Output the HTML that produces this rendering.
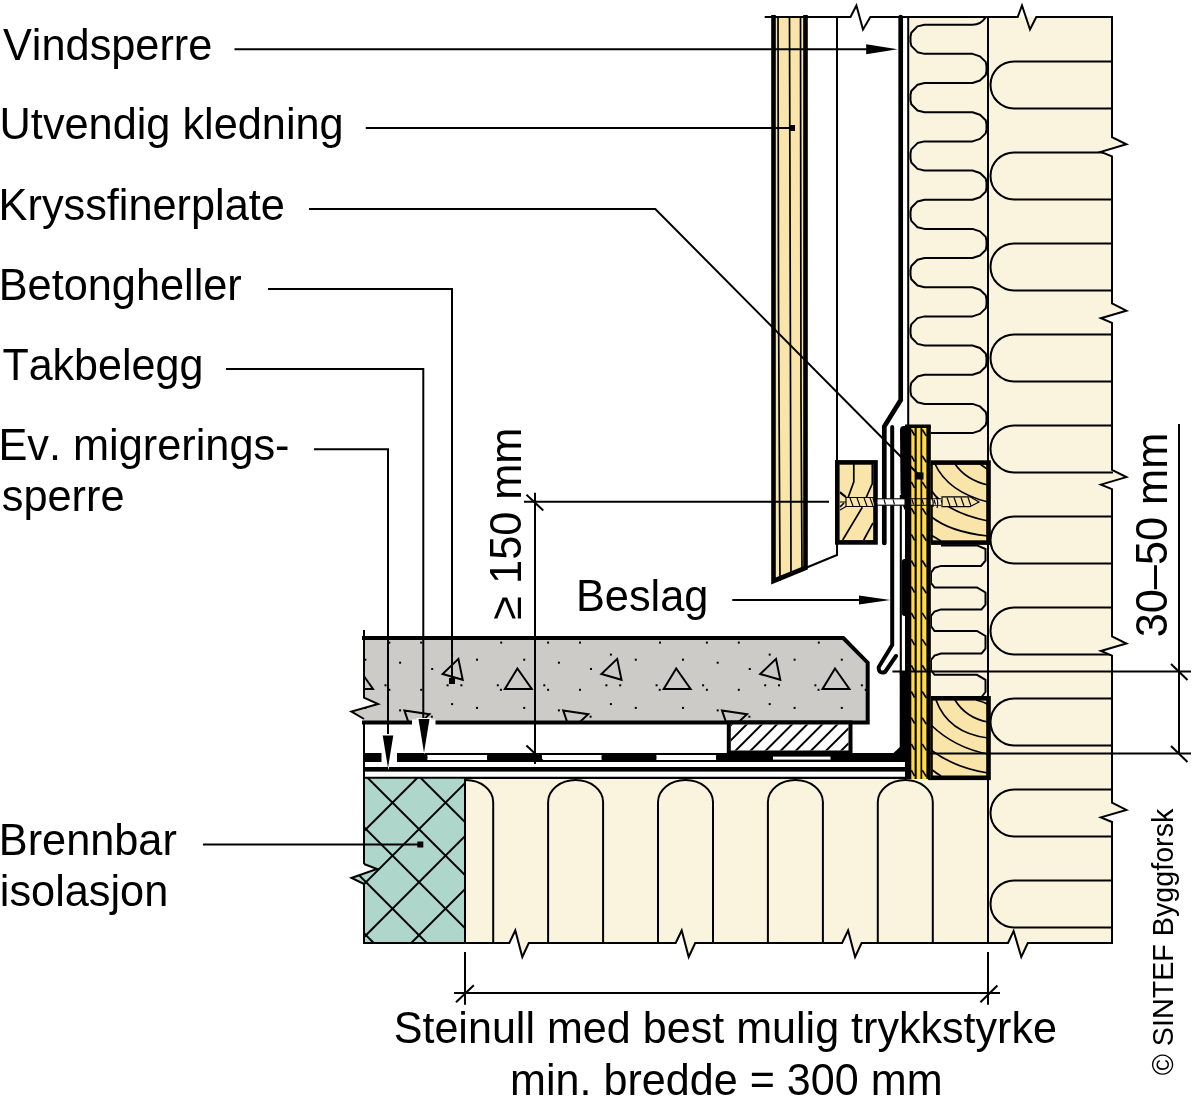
<!DOCTYPE html>
<html><head><meta charset="utf-8"><style>
html,body{margin:0;padding:0;background:#fff;}
svg{display:block;will-change:transform;}
text{font-family:"Liberation Sans",sans-serif;font-kerning:none;}
</style></head><body>
<svg width="1194" height="1099" viewBox="0 0 1194 1099">
<defs><clipPath id="oclip"><path d="M988,17 H1112 V137.1 L1126.4,144.3 L1100.9,151.8 L1112,156.4 V303.5 L1126.4,310.7 L1100.9,318.2 L1112,322.8 V469.9 L1126.4,477.1 L1100.9,484.6 L1112,489.2 V636.3 L1126.4,643.5 L1100.9,651.0 L1112,655.6 V802.7 L1126.4,809.9 L1100.9,817.4 L1112,822.0 V943 H1027.8 L1021.3,957 L1013.6,931 L1008,943 H988 Z"/></clipPath></defs>
<path d="M988,17 H1112 V137.1 L1126.4,144.3 L1100.9,151.8 L1112,156.4 V303.5 L1126.4,310.7 L1100.9,318.2 L1112,322.8 V469.9 L1126.4,477.1 L1100.9,484.6 L1112,489.2 V636.3 L1126.4,643.5 L1100.9,651.0 L1112,655.6 V802.7 L1126.4,809.9 L1100.9,817.4 L1112,822.0 V943 H1027.8 L1021.3,957 L1013.6,931 L1008,943 H988 Z" fill="#FAF3DE"/>
<path d="M988,17 H1017.7 L1022,5.5 L1030,29.5 L1036.3,17 H1112 V137.1 L1126.4,144.3 L1100.9,151.8 L1112,156.4 V303.5 L1126.4,310.7 L1100.9,318.2 L1112,322.8 V469.9 L1126.4,477.1 L1100.9,484.6 L1112,489.2 V636.3 L1126.4,643.5 L1100.9,651.0 L1112,655.6 V802.7 L1126.4,809.9 L1100.9,817.4 L1112,822.0 V943 H1027.8 L1021.3,957 L1013.6,931 L1008,943 H988" fill="none" stroke="#000" stroke-width="2" stroke-linejoin="miter"/>
<rect x="908" y="17" width="80" height="762" fill="#FAF3DE"/>
<path d="M465,778 H988 V943 H861.6 L855.1,957 L848.1,930.5 L842.1,943 H695.2 L688.7,957 L681.7,930.5 L675.7,943 H528.8 L522.3,957 L515.3,930.5 L509.3,943 H465 Z" fill="#FAF3DE" stroke="#000" stroke-width="2"/>
<g clip-path="url(#oclip)">
<path d="M1113,61.4 H1014 A23.5,23.5 0 0 0 1014,108.4 H1113" fill="none" stroke="#000" stroke-width="2"/>
<path d="M1113,152.4 H1014 A23.5,23.5 0 0 0 1014,199.4 H1113" fill="none" stroke="#000" stroke-width="2"/>
<path d="M1113,243.4 H1014 A23.5,23.5 0 0 0 1014,290.4 H1113" fill="none" stroke="#000" stroke-width="2"/>
<path d="M1113,334.4 H1014 A23.5,23.5 0 0 0 1014,381.4 H1113" fill="none" stroke="#000" stroke-width="2"/>
<path d="M1113,425.4 H1014 A23.5,23.5 0 0 0 1014,472.4 H1113" fill="none" stroke="#000" stroke-width="2"/>
<path d="M1113,516.4 H1014 A23.5,23.5 0 0 0 1014,563.4 H1113" fill="none" stroke="#000" stroke-width="2"/>
<path d="M1113,607.4 H1014 A23.5,23.5 0 0 0 1014,654.4 H1113" fill="none" stroke="#000" stroke-width="2"/>
<path d="M1113,698.4 H1014 A23.5,23.5 0 0 0 1014,745.4 H1113" fill="none" stroke="#000" stroke-width="2"/>
<path d="M1113,789.4 H1014 A23.5,23.5 0 0 0 1014,836.4 H1113" fill="none" stroke="#000" stroke-width="2"/>
<path d="M1113,880.4 H1014 A23.5,23.5 0 0 0 1014,927.4 H1113" fill="none" stroke="#000" stroke-width="2"/>
</g>
<line x1="988" y1="17" x2="988" y2="943" stroke="#000" stroke-width="2"/>
<path d="M985.5,17.5 Q981,24.7 972.5,24.7 H924.5 L917.5,26.40 L911.3,32.70 L910.5,36.70 V41.87 L911.3,45.87 L917.5,52.17 L924.5,53.87 H972.5 L980,56.37 L985.7,61.87 L986.5,65.87 V71.04 L985.7,75.04 L980,80.54 L972.5,83.04 H924.5 L917.5,84.74 L911.3,91.04 L910.5,95.04 V100.21 L911.3,104.21 L917.5,110.51 L924.5,112.21 H972.5 L980,114.71 L985.7,120.21 L986.5,124.21 V129.38 L985.7,133.38 L980,138.88 L972.5,141.38 H924.5 L917.5,143.08 L911.3,149.38 L910.5,153.38 V158.55 L911.3,162.55 L917.5,168.85 L924.5,170.55 H972.5 L980,173.05 L985.7,178.55 L986.5,182.55 V187.72 L985.7,191.72 L980,197.22 L972.5,199.72 H924.5 L917.5,201.42 L911.3,207.72 L910.5,211.72 V216.89 L911.3,220.89 L917.5,227.19 L924.5,228.89 H972.5 L980,231.39 L985.7,236.89 L986.5,240.89 V246.06 L985.7,250.06 L980,255.56 L972.5,258.06 H924.5 L917.5,259.76 L911.3,266.06 L910.5,270.06 V275.23 L911.3,279.23 L917.5,285.53 L924.5,287.23 H972.5 L980,289.73 L985.7,295.23 L986.5,299.23 V304.40 L985.7,308.40 L980,313.90 L972.5,316.40 H924.5 L917.5,318.10 L911.3,324.40 L910.5,328.40 V333.57 L911.3,337.57 L917.5,343.87 L924.5,345.57 H972.5 L980,348.07 L985.7,353.57 L986.5,357.57 V362.74 L985.7,366.74 L980,372.24 L972.5,374.74 H924.5 L917.5,376.44 L911.3,382.74 L910.5,386.74 V391.91 L911.3,395.91 L917.5,402.21 L924.5,403.91 H972.5 L980,406.41 L985.7,411.91 L986.5,415.91 V421.08 L985.7,425.08 L980,430.58 L972.5,433.08 H924.5" fill="none" stroke="#000" stroke-width="2" stroke-linejoin="round"/>
<path d="M941,545.4 H977 L985.5,549 V560.6 L981,565.9 H941 L934.5,567.9 L931,572.7 V583 L934.5,587.4 H977 L985.5,592.5 V604.6 L981.5,609.4 H941 L934.5,611.5 L931,615.9 V626.2 L934.5,631 H977 L985.5,636 V648.6 L981.5,653.6 H941 L934.5,655.6 L931,660 V670 L934.5,674.8 H977 L985.5,679.8 V692 L981.5,697" fill="none" stroke="#000" stroke-width="2"/>
<path d="M438.2,943 V802 A27.5,22 0 0 1 493.2,802 V943" fill="none" stroke="#000" stroke-width="2"/>
<path d="M548.1,943 V802 A27.5,22 0 0 1 603.1,802 V943" fill="none" stroke="#000" stroke-width="2"/>
<path d="M658.0,943 V802 A27.5,22 0 0 1 713.0,802 V943" fill="none" stroke="#000" stroke-width="2"/>
<path d="M767.9,943 V802 A27.5,22 0 0 1 822.9,802 V943" fill="none" stroke="#000" stroke-width="2"/>
<path d="M877.8,943 V802 A27.5,22 0 0 1 932.8,802 V943" fill="none" stroke="#000" stroke-width="2"/>
<defs><clipPath id="gclip"><path d="M364,778 H465 V943 H364 V884 L351.5,878 L377,869 L364,864 Z"/></clipPath></defs>
<path d="M364,778 H465 V943 H364 V884 L351.5,878 L377,869 L364,864 Z" fill="#AFD6CA"/>
<g clip-path="url(#gclip)" stroke="#000" stroke-width="2"><line x1="-28.2" y1="700" x2="271.8" y2="1000"/><line x1="177.2" y1="700" x2="-122.8" y2="1000"/><line x1="24.8" y1="700" x2="324.8" y2="1000"/><line x1="230.2" y1="700" x2="-69.8" y2="1000"/><line x1="77.8" y1="700" x2="377.8" y2="1000"/><line x1="283.2" y1="700" x2="-16.8" y2="1000"/><line x1="130.8" y1="700" x2="430.8" y2="1000"/><line x1="336.2" y1="700" x2="36.2" y2="1000"/><line x1="183.8" y1="700" x2="483.8" y2="1000"/><line x1="389.2" y1="700" x2="89.2" y2="1000"/><line x1="236.8" y1="700" x2="536.8" y2="1000"/><line x1="442.2" y1="700" x2="142.2" y2="1000"/><line x1="289.8" y1="700" x2="589.8" y2="1000"/><line x1="495.2" y1="700" x2="195.2" y2="1000"/><line x1="342.8" y1="700" x2="642.8" y2="1000"/><line x1="548.2" y1="700" x2="248.2" y2="1000"/><line x1="395.8" y1="700" x2="695.8" y2="1000"/><line x1="601.2" y1="700" x2="301.2" y2="1000"/><line x1="448.8" y1="700" x2="748.8" y2="1000"/><line x1="654.2" y1="700" x2="354.2" y2="1000"/><line x1="501.8" y1="700" x2="801.8" y2="1000"/><line x1="707.2" y1="700" x2="407.2" y2="1000"/><line x1="554.8" y1="700" x2="854.8" y2="1000"/><line x1="760.2" y1="700" x2="460.2" y2="1000"/><line x1="607.8" y1="700" x2="907.8" y2="1000"/><line x1="813.2" y1="700" x2="513.2" y2="1000"/><line x1="660.8" y1="700" x2="960.8" y2="1000"/><line x1="866.2" y1="700" x2="566.2" y2="1000"/></g>
<path d="M364,864 L377,869 L351.5,878 L364,884 V943 H465 V778" fill="none" stroke="#000" stroke-width="2"/>
<line x1="364" y1="778" x2="364" y2="864" stroke="#000" stroke-width="2"/>
<defs><clipPath id="sclip"><path d="M364,638 H843.3 L867.7,662.7 V722.5 H364 V719 L351.4,711.5 L378.1,704 L364,697.6 Z"/></clipPath></defs>
<path d="M364,638 H843.3 L867.7,662.7 V722.5 H364 V719 L351.4,711.5 L378.1,704 L364,697.6 Z" fill="#CDCBC7"/>
<g clip-path="url(#sclip)"><polygon points="299.6,658.9 283.8,674.0 303.9,679.8" fill="none" stroke="#000" stroke-width="2"/><polygon points="358.6,668.5 346.1,689.0 373.0,689.0" fill="none" stroke="#000" stroke-width="2"/><polygon points="404.4,710.4 429.4,714.2 411.4,731.0" fill="none" stroke="#000" stroke-width="2"/><rect x="341.4" y="641.6" width="2" height="2" fill="#000"/><rect x="388.3" y="641.6" width="2" height="2" fill="#000"/><rect x="261.4" y="641.6" width="2" height="2" fill="#000"/><rect x="292.3" y="653.6" width="2" height="2" fill="#000"/><rect x="317.2" y="658.7" width="2" height="2" fill="#000"/><rect x="364.4" y="658.7" width="2" height="2" fill="#000"/><rect x="399.1" y="661.7" width="2" height="2" fill="#000"/><rect x="272.4" y="668.0" width="2" height="2" fill="#000"/><rect x="287.8" y="684.3" width="2" height="2" fill="#000"/><rect x="301.6" y="684.3" width="2" height="2" fill="#000"/><rect x="338.0" y="684.3" width="2" height="2" fill="#000"/><rect x="384.5" y="684.3" width="2" height="2" fill="#000"/><rect x="388.3" y="688.8" width="2" height="2" fill="#000"/><rect x="261.4" y="688.8" width="2" height="2" fill="#000"/><rect x="341.1" y="688.8" width="2" height="2" fill="#000"/><rect x="292.3" y="703.1" width="2" height="2" fill="#000"/><rect x="317.2" y="706.9" width="2" height="2" fill="#000"/><rect x="364.4" y="706.9" width="2" height="2" fill="#000"/><rect x="399.1" y="709.4" width="2" height="2" fill="#000"/><rect x="272.0" y="715.7" width="2" height="2" fill="#000"/><polygon points="458.4,658.9 442.6,674.0 462.7,679.8" fill="none" stroke="#000" stroke-width="2"/><polygon points="517.4,668.5 504.9,689.0 531.8,689.0" fill="none" stroke="#000" stroke-width="2"/><polygon points="563.2,710.4 588.2,714.2 570.2,731.0" fill="none" stroke="#000" stroke-width="2"/><rect x="500.2" y="641.6" width="2" height="2" fill="#000"/><rect x="547.1" y="641.6" width="2" height="2" fill="#000"/><rect x="420.2" y="641.6" width="2" height="2" fill="#000"/><rect x="451.1" y="653.6" width="2" height="2" fill="#000"/><rect x="476.0" y="658.7" width="2" height="2" fill="#000"/><rect x="523.2" y="658.7" width="2" height="2" fill="#000"/><rect x="557.9" y="661.7" width="2" height="2" fill="#000"/><rect x="431.2" y="668.0" width="2" height="2" fill="#000"/><rect x="446.6" y="684.3" width="2" height="2" fill="#000"/><rect x="460.4" y="684.3" width="2" height="2" fill="#000"/><rect x="496.8" y="684.3" width="2" height="2" fill="#000"/><rect x="543.3" y="684.3" width="2" height="2" fill="#000"/><rect x="547.1" y="688.8" width="2" height="2" fill="#000"/><rect x="420.2" y="688.8" width="2" height="2" fill="#000"/><rect x="499.9" y="688.8" width="2" height="2" fill="#000"/><rect x="451.1" y="703.1" width="2" height="2" fill="#000"/><rect x="476.0" y="706.9" width="2" height="2" fill="#000"/><rect x="523.2" y="706.9" width="2" height="2" fill="#000"/><rect x="557.9" y="709.4" width="2" height="2" fill="#000"/><rect x="430.8" y="715.7" width="2" height="2" fill="#000"/><polygon points="617.2,658.9 601.4,674.0 621.5,679.8" fill="none" stroke="#000" stroke-width="2"/><polygon points="676.2,668.5 663.7,689.0 690.6,689.0" fill="none" stroke="#000" stroke-width="2"/><polygon points="722.0,710.4 747.0,714.2 729.0,731.0" fill="none" stroke="#000" stroke-width="2"/><rect x="659.0" y="641.6" width="2" height="2" fill="#000"/><rect x="705.9" y="641.6" width="2" height="2" fill="#000"/><rect x="579.0" y="641.6" width="2" height="2" fill="#000"/><rect x="609.9" y="653.6" width="2" height="2" fill="#000"/><rect x="634.8" y="658.7" width="2" height="2" fill="#000"/><rect x="682.0" y="658.7" width="2" height="2" fill="#000"/><rect x="716.7" y="661.7" width="2" height="2" fill="#000"/><rect x="590.0" y="668.0" width="2" height="2" fill="#000"/><rect x="605.4" y="684.3" width="2" height="2" fill="#000"/><rect x="619.2" y="684.3" width="2" height="2" fill="#000"/><rect x="655.6" y="684.3" width="2" height="2" fill="#000"/><rect x="702.1" y="684.3" width="2" height="2" fill="#000"/><rect x="705.9" y="688.8" width="2" height="2" fill="#000"/><rect x="579.0" y="688.8" width="2" height="2" fill="#000"/><rect x="658.7" y="688.8" width="2" height="2" fill="#000"/><rect x="609.9" y="703.1" width="2" height="2" fill="#000"/><rect x="634.8" y="706.9" width="2" height="2" fill="#000"/><rect x="682.0" y="706.9" width="2" height="2" fill="#000"/><rect x="716.7" y="709.4" width="2" height="2" fill="#000"/><rect x="589.6" y="715.7" width="2" height="2" fill="#000"/><polygon points="776.0,658.9 760.2,674.0 780.3,679.8" fill="none" stroke="#000" stroke-width="2"/><polygon points="835.0,668.5 822.5,689.0 849.4,689.0" fill="none" stroke="#000" stroke-width="2"/><polygon points="880.8,710.4 905.8,714.2 887.8,731.0" fill="none" stroke="#000" stroke-width="2"/><rect x="817.8" y="641.6" width="2" height="2" fill="#000"/><rect x="864.7" y="641.6" width="2" height="2" fill="#000"/><rect x="737.8" y="641.6" width="2" height="2" fill="#000"/><rect x="768.7" y="653.6" width="2" height="2" fill="#000"/><rect x="793.6" y="658.7" width="2" height="2" fill="#000"/><rect x="840.8" y="658.7" width="2" height="2" fill="#000"/><rect x="875.5" y="661.7" width="2" height="2" fill="#000"/><rect x="748.8" y="668.0" width="2" height="2" fill="#000"/><rect x="764.2" y="684.3" width="2" height="2" fill="#000"/><rect x="778.0" y="684.3" width="2" height="2" fill="#000"/><rect x="814.4" y="684.3" width="2" height="2" fill="#000"/><rect x="860.9" y="684.3" width="2" height="2" fill="#000"/><rect x="864.7" y="688.8" width="2" height="2" fill="#000"/><rect x="737.8" y="688.8" width="2" height="2" fill="#000"/><rect x="817.5" y="688.8" width="2" height="2" fill="#000"/><rect x="768.7" y="703.1" width="2" height="2" fill="#000"/><rect x="793.6" y="706.9" width="2" height="2" fill="#000"/><rect x="840.8" y="706.9" width="2" height="2" fill="#000"/><rect x="875.5" y="709.4" width="2" height="2" fill="#000"/><rect x="748.4" y="715.7" width="2" height="2" fill="#000"/><polygon points="934.8,658.9 919.0,674.0 939.1,679.8" fill="none" stroke="#000" stroke-width="2"/><polygon points="993.8,668.5 981.3,689.0 1008.2,689.0" fill="none" stroke="#000" stroke-width="2"/><polygon points="1039.6,710.4 1064.6,714.2 1046.6,731.0" fill="none" stroke="#000" stroke-width="2"/><rect x="976.6" y="641.6" width="2" height="2" fill="#000"/><rect x="1023.5" y="641.6" width="2" height="2" fill="#000"/><rect x="896.6" y="641.6" width="2" height="2" fill="#000"/><rect x="927.5" y="653.6" width="2" height="2" fill="#000"/><rect x="952.4" y="658.7" width="2" height="2" fill="#000"/><rect x="999.6" y="658.7" width="2" height="2" fill="#000"/><rect x="1034.3" y="661.7" width="2" height="2" fill="#000"/><rect x="907.6" y="668.0" width="2" height="2" fill="#000"/><rect x="923.0" y="684.3" width="2" height="2" fill="#000"/><rect x="936.8" y="684.3" width="2" height="2" fill="#000"/><rect x="973.2" y="684.3" width="2" height="2" fill="#000"/><rect x="1019.7" y="684.3" width="2" height="2" fill="#000"/><rect x="1023.5" y="688.8" width="2" height="2" fill="#000"/><rect x="896.6" y="688.8" width="2" height="2" fill="#000"/><rect x="976.3" y="688.8" width="2" height="2" fill="#000"/><rect x="927.5" y="703.1" width="2" height="2" fill="#000"/><rect x="952.4" y="706.9" width="2" height="2" fill="#000"/><rect x="999.6" y="706.9" width="2" height="2" fill="#000"/><rect x="1034.3" y="709.4" width="2" height="2" fill="#000"/><rect x="907.2" y="715.7" width="2" height="2" fill="#000"/></g>
<path d="M364,630 V697.6 L378.1,704 L351.4,711.5 L364,719" fill="none" stroke="#000" stroke-width="2"/>
<path d="M362,638 H843.3 L867.7,662.7 V722.5 H362" fill="none" stroke="#000" stroke-width="4"/>
<rect x="728.8" y="722.5" width="121.7" height="30" fill="#fff" stroke="#000" stroke-width="4"/>
<defs><clipPath id="hclip"><rect x="730.8" y="724.5" width="117.7" height="26"/></clipPath></defs><g clip-path="url(#hclip)" stroke="#000" stroke-width="2"><line x1="703.0" y1="753" x2="734.0" y2="722"/><line x1="718.1" y1="753" x2="749.1" y2="722"/><line x1="733.2" y1="753" x2="764.2" y2="722"/><line x1="748.3" y1="753" x2="779.3" y2="722"/><line x1="763.4" y1="753" x2="794.4" y2="722"/><line x1="778.5" y1="753" x2="809.5" y2="722"/><line x1="793.6" y1="753" x2="824.6" y2="722"/><line x1="808.7" y1="753" x2="839.7" y2="722"/><line x1="823.8" y1="753" x2="854.8" y2="722"/><line x1="838.9" y1="753" x2="869.9" y2="722"/><line x1="854.0" y1="753" x2="885.0" y2="722"/><line x1="869.1" y1="753" x2="900.1" y2="722"/></g>
<rect x="364" y="754" width="542" height="7" fill="#fff" stroke="#000" stroke-width="2"/>
<rect x="363" y="753" width="64.5" height="9" rx="3.5" fill="#000"/>
<rect x="487.0" y="753" width="55" height="9" rx="3.5" fill="#000"/>
<rect x="601.5" y="753" width="55" height="9" rx="3.5" fill="#000"/>
<rect x="716.0" y="753" width="55" height="9" rx="3.5" fill="#000"/>
<rect x="830.5" y="753" width="55" height="9" rx="3.5" fill="#000"/>
<rect x="728" y="753" width="45" height="9" fill="#000"/>
<rect x="833" y="753" width="73" height="9" fill="#000"/>
<rect x="773" y="753" width="60" height="3.6" fill="#000"/>
<rect x="773" y="759.6" width="60" height="2.4" fill="#000"/>
<rect x="364" y="767" width="542" height="4.6" fill="#000"/>
<line x1="364" y1="777.8" x2="906" y2="777.8" stroke="#000" stroke-width="2"/>
<line x1="364" y1="722" x2="364" y2="778" stroke="#000" stroke-width="2"/>
<path d="M773.4,17 H805.5 V568 L773.4,581 Z" fill="#F9E4A9"/>
<path d="M778,17 L778.5,300 L780,581" fill="none" stroke="#000" stroke-width="1.7"/>
<path d="M789.5,17 L790,200 L791,575" fill="none" stroke="#000" stroke-width="1.7"/>
<path d="M800.5,17 L801,400 L802,569" fill="none" stroke="#000" stroke-width="1.7"/>
<path d="M773.5,15 V581 L805.5,568 V15" fill="none" stroke="#000" stroke-width="4.6"/>
<path d="M805.5,568 L837,555 V17" fill="none" stroke="#000" stroke-width="2"/>
<path d="M764.7,17 H850.5 L856.4,5.5 L863,29.5 L870.4,17 H988" fill="none" stroke="#000" stroke-width="2"/>
<path d="M900.7,17 V400 L884.3,426.5 V543" fill="none" stroke="#000" stroke-width="4.7" stroke-linecap="round"/>
<line x1="908.2" y1="17" x2="908.2" y2="426" stroke="#000" stroke-width="2"/>
<path d="M892.2,427 V645 L878.8,667 Q878,674 885,672 L896,656" fill="none" stroke="#000" stroke-width="4" stroke-linecap="round" stroke-linejoin="round"/>
<rect x="837.3" y="462.4" width="38.2" height="80" fill="#F9E4A9" stroke="#000" stroke-width="4.6"/>
<rect x="930.5" y="462.6" width="58" height="80" fill="#F9E4A9" stroke="#000" stroke-width="4.6"/>
<rect x="930.5" y="698.3" width="58" height="79.5" fill="#F9E4A9" stroke="#000" stroke-width="4.6"/>
<path d="M853.8,463 V481.8 L848.2,497.3 M872.3,463 V483.6 L866.4,497 M862.3,507.3 L842.7,540 M873,522.8 L863.7,540 M840,492 L846,497 M840,507 L844,503" fill="none" stroke="#000" stroke-width="1.7"/>
<path d="M935,464 Q948,492 988,502 M955,464 Q966,480 988,485 M980,464 Q984,467 988,469.5 M931,490 Q945,512 988,521 M931,516.5 Q950,532 988,536 M931,535 Q936,538 941,541" fill="none" stroke="#000" stroke-width="1.7"/>
<path d="M936,700 Q948,733 988,738 M955,700 Q966,718 988,722 M976,700 Q984,702 988,704.5 M931,725 Q955,748 988,754 M931,750 Q955,768 988,773 M931,769 Q936,773 941,776" fill="none" stroke="#000" stroke-width="1.7"/>
<rect x="905" y="426" width="25.8" height="353" fill="#FFD84C"/>
<rect x="914.6" y="426" width="2.1" height="353" fill="#000"/>
<rect x="920.5" y="426" width="1.7" height="353" fill="#000"/>
<rect x="905" y="426" width="6.3" height="353" fill="#000"/>
<rect x="926.4" y="426" width="4.4" height="353" fill="#000"/>
<rect x="905" y="424.5" width="25.8" height="3.5" fill="#000"/>
<g stroke="#000" stroke-width="1.7"><line x1="911.3" y1="429.5" x2="914.6" y2="435.5"/><line x1="922.2" y1="429.5" x2="926.4" y2="436.0"/><line x1="911.3" y1="455.7" x2="914.6" y2="461.7"/><line x1="922.2" y1="455.7" x2="926.4" y2="462.2"/><line x1="911.3" y1="481.9" x2="914.6" y2="487.9"/><line x1="922.2" y1="481.9" x2="926.4" y2="488.4"/><line x1="911.3" y1="508.1" x2="914.6" y2="514.1"/><line x1="922.2" y1="508.1" x2="926.4" y2="514.6"/><line x1="911.3" y1="534.3" x2="914.6" y2="540.3"/><line x1="922.2" y1="534.3" x2="926.4" y2="540.8"/><line x1="911.3" y1="560.5" x2="914.6" y2="566.5"/><line x1="922.2" y1="560.5" x2="926.4" y2="567.0"/><line x1="911.3" y1="586.7" x2="914.6" y2="592.7"/><line x1="922.2" y1="586.7" x2="926.4" y2="593.2"/><line x1="911.3" y1="612.9" x2="914.6" y2="618.9"/><line x1="922.2" y1="612.9" x2="926.4" y2="619.4"/><line x1="911.3" y1="639.1" x2="914.6" y2="645.1"/><line x1="922.2" y1="639.1" x2="926.4" y2="645.6"/><line x1="911.3" y1="665.3" x2="914.6" y2="671.3"/><line x1="922.2" y1="665.3" x2="926.4" y2="671.8"/><line x1="911.3" y1="691.5" x2="914.6" y2="697.5"/><line x1="922.2" y1="691.5" x2="926.4" y2="698.0"/><line x1="911.3" y1="717.7" x2="914.6" y2="723.7"/><line x1="922.2" y1="717.7" x2="926.4" y2="724.2"/><line x1="911.3" y1="743.9" x2="914.6" y2="749.9"/><line x1="922.2" y1="743.9" x2="926.4" y2="750.4"/><line x1="911.3" y1="770.1" x2="914.6" y2="776.1"/><line x1="922.2" y1="770.1" x2="926.4" y2="776.6"/></g>
<rect x="915.5" y="472.5" width="8" height="7" fill="#000"/>
<path d="M900,430 Q900,426 904,426 H906 V512 Q901,505 900.5,490 Z" fill="#000"/>
<line x1="900.8" y1="495" x2="900.8" y2="675" stroke="#000" stroke-width="2.1"/>
<path d="M901.8,562 Q901.8,559 904.5,559 H906 V616 H904.5 Q901.8,616 901.8,613 Z" fill="#000"/>
<rect x="899.7" y="672" width="6.5" height="90" fill="#000"/>
<polygon points="893.5,753 900.5,746.5 900.5,753" fill="#000"/>
<rect x="877" y="498.8" width="28" height="6.4" fill="#fff" stroke="#000" stroke-width="1.1"/>
<path d="M905,498.8 H941 M905,505.2 H941" stroke="#000" stroke-width="1.1"/>
<rect x="930.8" y="499.3" width="10" height="5.4" fill="#FBEFD0"/>
<g stroke="#000" stroke-width="1.1" fill="none">
<line x1="884" y1="499.5" x2="885.5" y2="504.5"/>
<line x1="893" y1="499.5" x2="894.5" y2="504.5"/>
<line x1="912" y1="499.5" x2="913.5" y2="504.5"/>
<line x1="922" y1="499.5" x2="923.5" y2="504.5"/>
<line x1="934" y1="499.5" x2="935.5" y2="504.5"/>
</g>
<path d="M846,497.5 H873 L875,506.5 H846 Z" fill="#F9E4A9" stroke="#000" stroke-width="1.2"/>
<g stroke="#000" stroke-width="1.2">
<line x1="850" y1="498" x2="853" y2="506"/>
<line x1="857" y1="498" x2="860" y2="506"/>
<line x1="864" y1="498" x2="867" y2="506"/>
<line x1="870" y1="498" x2="873" y2="506"/>
</g>
<path d="M846,497.5 L840,493 M846,502 H840 M846,506.5 L840,510" stroke="#000" stroke-width="1.2"/>
<path d="M942,496.8 H970 L979,502 L970,506.7 H942 Z" fill="#F9E4A9" stroke="#000" stroke-width="1.2"/>
<g stroke="#000" stroke-width="1.2">
<line x1="947" y1="497.5" x2="950" y2="506"/>
<line x1="954" y1="497.5" x2="957" y2="506"/>
<line x1="961" y1="497.5" x2="964" y2="506"/>
<line x1="968" y1="497.5" x2="971" y2="506"/>
</g>
<path d="M932,498 Q934,502 933,507 M936,497 Q939,502 937,508" fill="none" stroke="#000" stroke-width="1.2"/>
<g stroke="#000" stroke-width="2" fill="none">
<line x1="234.5" y1="49.2" x2="870" y2="49.2"/>
<line x1="365.8" y1="128" x2="792" y2="128"/>
<polyline points="309,209 655.3,209 919,475"/>
<polyline points="268,289 452,289 452,681"/>
<polyline points="226,369 423.3,369 423.3,735"/>
<polyline points="314,449.3 388,449.3 388,745"/>
<line x1="203" y1="844.5" x2="420" y2="844.5"/>
<line x1="732.3" y1="600" x2="862" y2="600"/>
<line x1="535" y1="492.7" x2="535" y2="764"/>
<line x1="524" y1="501.7" x2="829" y2="501.7"/>
<line x1="526.5" y1="494.8" x2="543.3" y2="510.5"/>
<line x1="526.4" y1="745.5" x2="543" y2="761"/>
<line x1="1179" y1="424" x2="1179" y2="753.5"/>
<line x1="892.4" y1="671.5" x2="1191" y2="671.5"/>
<line x1="930" y1="753.5" x2="1191" y2="753.5"/>
<line x1="1171" y1="664" x2="1187.5" y2="680"/>
<line x1="1171" y1="746" x2="1187.5" y2="762"/>
<line x1="465" y1="952" x2="465" y2="1004.8"/>
<line x1="988" y1="952" x2="988" y2="1004.8"/>
<line x1="454" y1="993" x2="1000" y2="993"/>
<line x1="456" y1="1002.3" x2="473.8" y2="985.3"/>
<line x1="980.4" y1="1002.3" x2="997.4" y2="985.5"/>
</g>
<polygon points="866.2,44.2 897.6,49.2 866.2,54.2" fill="#000"/>
<polygon points="859,595.5 890.3,600 859,604.5" fill="#000"/>
<polygon points="381,734 395,734 388.5,770" fill="#fff"/>
<rect x="381.5" y="752" width="15.5" height="11" fill="#fff"/>
<polygon points="382.7,735.5 393.3,735.5 388,768" fill="#000"/>
<rect x="412" y="719.5" width="23.5" height="5.5" fill="#fff"/>
<polygon points="416.5,718 431.5,718 424.5,754.5" fill="#fff"/>
<polygon points="418.5,719 429.5,719 424,752.7" fill="#000"/>
<rect x="789" y="125" width="6" height="6" fill="#000"/>
<rect x="916" y="472.5" width="6" height="6" fill="#000"/>
<rect x="449" y="678" width="6" height="6" fill="#000"/>
<rect x="417.3" y="841.5" width="6" height="6" fill="#000"/>
<text transform="translate(3.0,60) scale(1.0,1.04)" font-size="43.3">Vindsperre</text>
<text transform="translate(-0.4,139.2) scale(1.0,1.04)" font-size="43.3">Utvendig kledning</text>
<text transform="translate(-1.4,220) scale(1.0,1.04)" font-size="43.3">Kryssfinerplate</text>
<text transform="translate(-1.3,300) scale(1.0,1.04)" font-size="43.3">Betongheller</text>
<text transform="translate(2.4,380) scale(0.994,1.04)" font-size="43.3">Takbelegg</text>
<text transform="translate(-1.5,460) scale(1.0,1.04)" font-size="43.3">Ev. migrerings-</text>
<text transform="translate(1.8,510.5) scale(1.0,1.04)" font-size="43.3">sperre</text>
<text transform="translate(-1.2,855) scale(1.0,1.04)" font-size="43.3">Brennbar</text>
<text transform="translate(-0.2,906) scale(1.0,1.04)" font-size="43.3">isolasjon</text>
<text transform="translate(393.7,1043) scale(0.9953,1.04)" font-size="43.3">Steinull med best mulig trykkstyrke</text>
<text transform="translate(510.1,1094.7) scale(0.9956,1.04)" font-size="43.3">min. bredde = 300 mm</text>
<text transform="translate(576,610.8) scale(1.0,1.04)" font-size="43.3">Beslag</text>
<text transform="translate(521.1,619.7) rotate(-90) scale(1,1.04)" font-size="43.3">≥ 150 mm</text>
<text transform="translate(1167,637.3) rotate(-90) scale(1,1.04)" font-size="43.3">30–50 mm</text>
<text transform="translate(1173,1075.3) rotate(-90) scale(1,1.04)" font-size="28.7">© SINTEF Byggforsk</text>
</svg>
</body></html>
